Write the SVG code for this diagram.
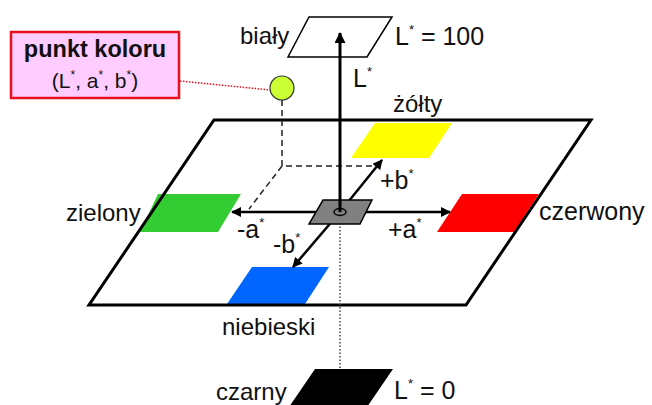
<svg xmlns="http://www.w3.org/2000/svg" width="652" height="405" viewBox="0 0 652 405">
<defs>
<marker id="ah" viewBox="0 0 10 10" refX="9" refY="5" markerWidth="11" markerHeight="10" markerUnits="userSpaceOnUse" orient="auto">
<path d="M0,0 L10,5 L0,10 Z" fill="#000"/>
</marker>
<marker id="ahL" viewBox="0 0 10 10" refX="9" refY="5" markerWidth="12" markerHeight="11" markerUnits="userSpaceOnUse" orient="auto">
<path d="M0,0 L10,5 L0,10 Z" fill="#000"/>
</marker>
</defs>
<style>
text{font-family:"Liberation Sans",Arial,sans-serif;fill:#111;}
.lbl{font-size:24px;}
.ax{font-size:25px;}
.st{font-size:13px;}
.axis{stroke:#000;stroke-width:2.5;fill:none;}
.dash{stroke:#222;stroke-width:1.5;stroke-dasharray:6 4;fill:none;}
</style>
<rect width="652" height="405" fill="#fff"/>
<g id="plane">
<polygon points="214,120 591,120 466,305 89,305" fill="#fff"/>
</g>
<g id="zolty"><polygon points="375,123 452,123 429,158 351,158" fill="#ffff00"/><text class="lbl" x="393" y="112">żółty</text></g>
<g id="zielony"><polygon points="158,194 241,194 218,232 140,232" fill="#33cc33"/><text class="lbl" x="66" y="221">zielony</text></g>
<g id="czerwony"><polygon points="462,194 539,194 514,232 437,232" fill="#ff0000"/><text class="lbl" x="539" y="220" style="font-size:25px">czerwony</text></g>
<g id="niebieski"><polygon points="252,267 329,267 305,304 227,304" fill="#0066ff"/><text class="lbl" x="222" y="335">niebieski</text></g>
<g id="plane-edge">
<polygon points="214,120 591,120 466,305 89,305" fill="none" stroke="#000" stroke-width="3" stroke-linejoin="miter"/>
</g>
<g id="bialy">
<polygon points="309,17 392,17 367,57 288,57" fill="#fff" stroke="#000" stroke-width="1.5"/>
<text class="lbl" x="240" y="44">biały</text>
<text class="ax" x="395" y="45">L<tspan class="st" dy="-11">*</tspan><tspan dy="11"> = 100</tspan></text>
</g>
<g id="czarny">
<polygon points="315,369 393,369 365,410 287,410" fill="#000"/>
<text class="lbl" x="216" y="400">czarny</text>
<text class="ax" x="394" y="399">L<tspan class="st" dy="-11">*</tspan><tspan dy="11"> = 0</tspan></text>
</g>
<g id="punkt-koloru">
<rect x="11" y="32" width="168" height="66" fill="#ffccff" stroke="#e8101e" stroke-width="2.5"/>
<text x="95" y="57" text-anchor="middle" style="font-size:23.5px;font-weight:bold">punkt koloru</text>
<text x="95" y="88" text-anchor="middle" style="font-size:21px">(L<tspan style="font-size:12px" dy="-9">*</tspan><tspan dy="9">, a</tspan><tspan style="font-size:12px" dy="-9">*</tspan><tspan dy="9">, b</tspan><tspan style="font-size:12px" dy="-9">*</tspan><tspan dy="9">)</tspan></text>
<circle cx="282" cy="88" r="12" fill="#ccff33" stroke="#333" stroke-width="1.2"/>
</g>
<g id="connectors">
<line x1="180" y1="81" x2="270" y2="90" stroke="#e8101e" stroke-width="1.5" stroke-dasharray="1.5 1.5"/>
<polyline class="dash" points="282,100 282,166 373,166"/>
<line class="dash" x1="282" y1="166" x2="249" y2="209"/>
<line x1="340" y1="216" x2="340" y2="369" stroke="#444" stroke-width="1.5" stroke-dasharray="1.5 2"/>
<line class="axis" x1="340" y1="212" x2="232" y2="212" marker-end="url(#ah)"/>
<line class="axis" x1="340" y1="212" x2="450" y2="212" marker-end="url(#ah)"/>
<line class="axis" x1="340" y1="212" x2="382" y2="160" marker-end="url(#ah)"/>
<line class="axis" x1="340" y1="212" x2="293" y2="267" marker-end="url(#ah)"/>
</g>
<g id="srodek">
<polygon points="323,200 372,200 360,224 309,224" fill="#808080" stroke="#000" stroke-width="1.5"/>
<ellipse cx="340" cy="212" rx="6" ry="3.5" fill="none" stroke="#000" stroke-width="1.5"/>
</g>
<g id="os-L">
<line x1="340" y1="212" x2="340" y2="33" stroke="#000" stroke-width="3" marker-end="url(#ahL)"/>
<text class="ax" x="353" y="87">L<tspan class="st" dy="-11">*</tspan></text>
</g>
<g id="os-labels">
<text class="ax" x="380" y="189">+b<tspan class="st" dy="-11">*</tspan></text>
<text class="ax" x="237" y="238">-a<tspan class="st" dy="-11">*</tspan></text>
<text class="ax" x="388" y="238">+a<tspan class="st" dy="-11">*</tspan></text>
<text class="ax" x="273" y="253">-b<tspan class="st" dy="-11">*</tspan></text>
</g>
</svg>
